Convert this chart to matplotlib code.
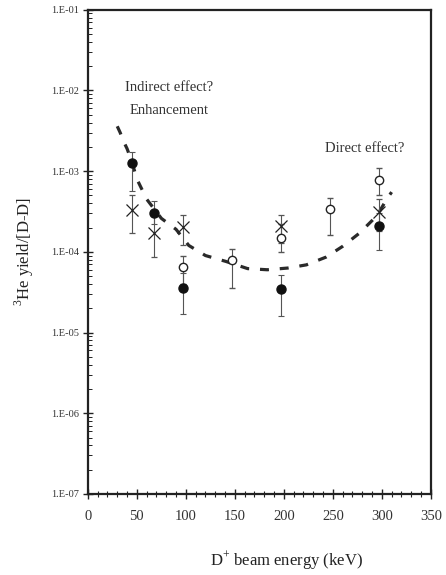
# 3He yield / [D-D] vs beam energy
import numpy as np
import matplotlib
matplotlib.use('Agg')
import matplotlib.pyplot as plt
from matplotlib.ticker import FixedLocator, MultipleLocator, FuncFormatter, LogLocator, NullFormatter

plt.rcParams['font.family'] = ['Liberation Serif', 'DejaVu Serif']
plt.rcParams['mathtext.fontset'] = 'custom'
plt.rcParams['mathtext.rm'] = 'Liberation Serif'

# 塗りつぶし丸
filled_x = [45, 67, 97, 197, 297]
filled_y = [1.25e-3, 3.0e-4, 3.6e-5, 3.5e-5, 2.1e-4]
filled_lo = [5.6e-4, 2.2e-4, 1.7e-5, 1.6e-5, 1.04e-4]
filled_hi = [1.75e-3, 4.3e-4, 5.5e-5, 5.1e-5, 3.0e-4]

# 白抜き丸
open_x = [97, 147, 197, 247, 297]
open_y = [6.4e-5, 7.9e-5, 1.5e-4, 3.4e-4, 7.8e-4]
open_lo = [4.0e-5, 3.6e-5, 1.0e-4, 1.6e-4, 5.0e-4]
open_hi = [8.9e-5, 1.1e-4, 2.2e-4, 4.7e-4, 1.1e-3]

# バツ印
cross_x = [45, 67, 97, 197, 297]
cross_y = [3.3e-4, 1.7e-4, 2.05e-4, 2.1e-4, 3.1e-4]
cross_lo = [1.7e-4, 8.7e-5, 1.2e-4, 1.3e-4, 1.8e-4]
cross_hi = [5.0e-4, 3.0e-4, 2.9e-4, 2.9e-4, 4.5e-4]

# 破線のカーブ
curve_x = [30, 33, 36, 40, 45, 50, 60, 75, 90, 103, 120, 141, 163, 183, 204, 223, 243, 260, 277, 295, 305, 310]
curve_y = [3.6e-3, 3.0e-3, 2.4e-3, 1.9e-3, 1.3e-3, 8.0e-4, 4.5e-4, 2.6e-4, 1.9e-4, 1.2e-4, 9.0e-5, 7.6e-5,
           6.2e-5, 6.0e-5, 6.3e-5, 6.9e-5, 8.6e-5, 1.17e-4, 1.7e-4, 2.8e-4, 4.5e-4, 5.5e-4]

fig = plt.figure(figsize=(4.46, 5.75), dpi=100)
ax = fig.add_axes([0.197, 0.141, 0.769, 0.842])

ax.plot(curve_x, curve_y, color='#2a2a2a', lw=2.3, linestyle=(0, (2.8, 3.4)))

def yerr(y, lo, hi):
    y = np.array(y)
    return [y - np.array(lo), np.array(hi) - y]

ekw = dict(ecolor='#555555', elinewidth=0.8, capsize=2.5, capthick=0.8, linestyle='none')
ax.errorbar(open_x, open_y, yerr=yerr(open_y, open_lo, open_hi), fmt='o', mfc='white', mec='#222222',
            ms=6, mew=1.0, **ekw)
ax.errorbar(cross_x, cross_y, yerr=yerr(cross_y, cross_lo, cross_hi), fmt='x', color='#222222',
            ms=9, mew=0.9, **ekw)
ax.errorbar(filled_x, filled_y, yerr=yerr(filled_y, filled_lo, filled_hi), fmt='o', color='#111111',
            ms=6.5, **ekw)

ax.set_yscale('log')
ax.set_ylim(1e-7, 1e-1)
ax.set_xlim(0, 350)

ax.xaxis.set_major_locator(MultipleLocator(50))
ax.xaxis.set_minor_locator(MultipleLocator(10))
ax.yaxis.set_major_locator(FixedLocator([1e-7, 1e-6, 1e-5, 1e-4, 1e-3, 1e-2, 1e-1]))
ax.yaxis.set_minor_locator(LogLocator(base=10, subs=np.arange(2, 10)))
ax.yaxis.set_minor_formatter(NullFormatter())
ax.yaxis.set_major_formatter(FuncFormatter(lambda v, p: '1.E-%02d' % round(-np.log10(v))))

ax.tick_params(axis='x', which='major', direction='inout', length=7, width=1, labelsize=10.5, pad=8,
               colors='#222222', labelcolor='#333333')
ax.tick_params(axis='x', which='minor', direction='inout', length=4, width=0.8, colors='#222222')
ax.tick_params(axis='y', which='major', direction='inout', length=7, width=1, labelsize=7.5, pad=3,
               colors='#222222', labelcolor='#333333')
ax.tick_params(axis='y', which='minor', direction='in', length=3, width=0.7, colors='#222222')

for s in ax.spines.values():
    s.set_linewidth(1.6)
    s.set_color('#222222')

ax.text(83, 1.09e-2, 'Indirect effect?', ha='center', va='center', fontsize=10.5, color='#333333')
ax.text(83, 5.7e-3, 'Enhancement', ha='center', va='center', fontsize=10.5, color='#333333')
ax.text(282, 1.9e-3, 'Direct effect?', ha='center', va='center', fontsize=10.5, color='#333333')

ax.set_xlabel(r'D$^{+}$ beam energy (keV)', fontsize=12, color='#222222')
ax.xaxis.set_label_coords(0.58, -0.115)
ax.set_ylabel(r'$^{3}$He yield/[D-D]', fontsize=12, color='#222222')
ax.yaxis.set_label_coords(-0.15, 0.5)

fig.savefig('out.png', dpi=100)
